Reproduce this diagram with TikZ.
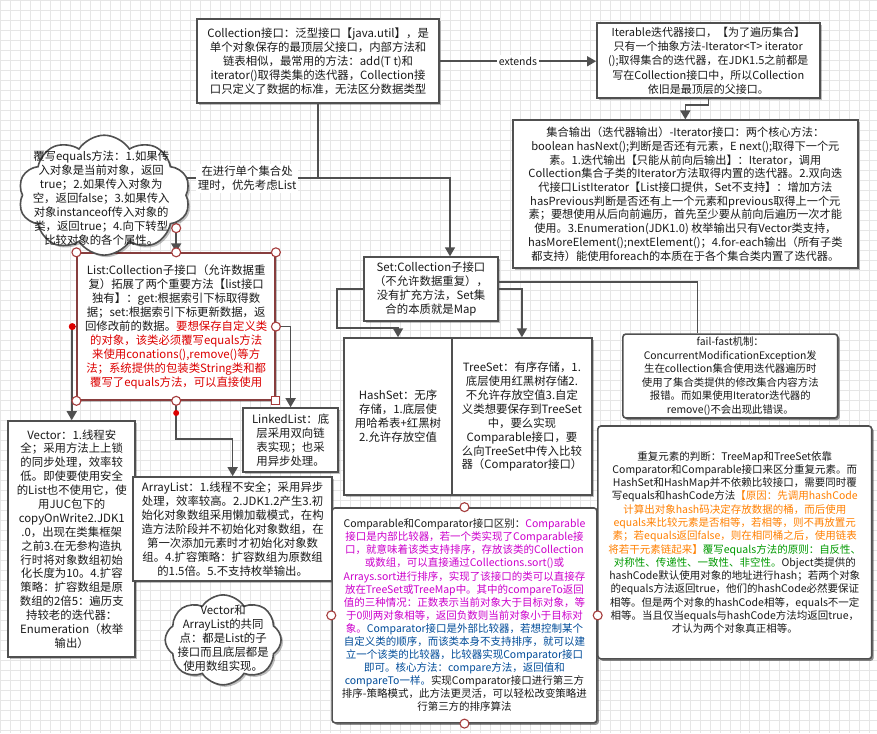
\documentclass[tikz,border=0pt]{standalone}
\usepackage{fontspec}
\setmainfont{Noto Sans CJK SC}
\usetikzlibrary{arrows.meta,shapes.symbols,shadows}

\definecolor{linegray}{RGB}{80,80,80}
\definecolor{textblack}{RGB}{26,26,26}
\definecolor{gridgray}{RGB}{230,230,230}
\definecolor{cred}{RGB}{220,0,0}
\definecolor{cmag}{RGB}{204,0,204}
\definecolor{cblue}{RGB}{0,76,153}
\definecolor{corange}{RGB}{255,128,0}
\definecolor{cgreen}{RGB}{0,153,0}
\definecolor{handlered}{RGB}{165,60,60}
\definecolor{listborder}{RGB}{135,62,62}

\newcommand\txtred[1]{\textcolor{cred}{#1}}
\newcommand\txtmag[1]{\textcolor{cmag}{#1}}
\newcommand\txtblue[1]{\textcolor{cblue}{#1}}
\newcommand\txtorange[1]{\textcolor{corange}{#1}}
\newcommand\txtgreen[1]{\textcolor{cgreen}{#1}}

\tikzset{
  box/.style={draw=linegray, line width=1.6pt, fill=white, align=center, inner sep=0pt,
    text=textblack, font=\fontsize{11.4pt}{14pt}\selectfont,
    drop shadow={shadow xshift=2pt, shadow yshift=-2pt, opacity=0.25, fill=black}},
  rbox/.style={box, rounded corners=3pt, font=\fontsize{10.5pt}{13.2pt}\selectfont},
  cloudbox/.style={cloud, cloud ignores aspect, cloud puffs=10, cloud puff arc=115, draw=linegray,
    line width=1.6pt, fill=white, inner sep=0pt,
    drop shadow={shadow xshift=2pt, shadow yshift=-2pt, opacity=0.25, fill=black}},
  cloudtext/.style={align=center, inner sep=0pt, text=textblack, font=\fontsize{11.4pt}{14pt}\selectfont},
  link/.style={draw=linegray, line width=1.6pt},
  arr/.style={link, -{Triangle[length=9pt,width=10pt]}},
  lbl/.style={fill=white, align=center, inner sep=2pt, text=textblack, font=\fontsize{11.4pt}{14pt}\selectfont},
  handle/.style={circle, draw=handlered, fill=white, line width=1.1pt, minimum size=9pt, inner sep=0pt},
  handlesq/.style={rectangle, draw=handlered, fill=white, line width=1.1pt, minimum size=8pt, inner sep=0pt},
}

\begin{document}
\begin{tikzpicture}[x=1pt,y=-1pt]
\fill[white] (0,0) rectangle (877,733);
\draw[gridgray, line width=0.6pt, step=10pt] (0,0) grid (877,733);
\useasboundingbox (0,0) rectangle (877,733);

\coordinate (fork) at (318,178);

\begin{scope}[every node/.style={box}]
  \node (coll) at (318,61) [minimum width=242pt, minimum height=84pt]
    {Collection接口：泛型接口【java.util】，是\\单个对象保存的最顶层父接口，内部方法和\\链表相似，最常用的方法：add(T t)和\\iterator()取得类集的迭代器，Collection接\\口只定义了数据的标准，无法区分数据类型};
  \node (iter) at (708.5,60.5) [minimum width=223pt, minimum height=75pt, font=\fontsize{11pt}{14.3pt}\selectfont]
    {Iterable迭代器接口，【为了遍历集合】\\只有一个抽象方法-Iterator<T> iterator\\();取得集合的迭代器，在JDK1.5之前都是\\写在Collection接口中，所以Collection\\依旧是最顶层的父接口。};
  \node (output) at (685.5,194) [minimum width=345pt, minimum height=148pt, font=\fontsize{11.2pt}{13.7pt}\selectfont]
    {集合输出（迭代器输出）-Iterator接口：两个核心方法：\\boolean hasNext();判断是否还有元素，E next();取得下一个元\\素。1.迭代输出【只能从前向后输出】：Iterator，调用\\Collection集合子类的Iterator方法取得内置的迭代器。2.双向迭\\代接口ListIterator【List接口提供，Set不支持】：增加方法\\hasPrevious判断是否还有上一个元素和previous取得上一个元\\素；要想使用从后向前遍历，首先至少要从前向后遍历一次才能\\使用。3.Enumeration(JDK1.0) 枚举输出只有Vector类支持，\\hasMoreElement();nextElement()；4.for-each输出（所有子类\\都支持）能使用foreach的本质在于各个集合类内置了迭代器。};
  \node (list) at (176,326.5) [minimum width=198pt, minimum height=147pt, draw=listborder]
    {List:Collection子接口（允许数据重\\复）拓展了两个重要方法【list接口\\独有】：get:根据索引下标取得数\\据；set:根据索引下标更新数据，返\\回修改前的数据。\txtred{要想保存自定义类}\\\txtred{的对象，该类必须覆写equals方法}\\\txtred{来使用conations(),remove()等方}\\\txtred{法；系统提供的包装类String类和都}\\\txtred{覆写了equals方法，可以直接使用}};
  \node (set) at (431,289) [minimum width=134pt, minimum height=64pt]
    {Set:Collection子接口\\（不允许数据重复），\\没有扩充方法，Set集\\合的本质就是Map};
  \node (hashset) at (398,416.5) [minimum width=108pt, minimum height=157pt]
    {HashSet：无序\\存储，1.底层使\\用哈希表+红黑树\\2.允许存放空值};
  \node (treeset) at (522,416.5) [minimum width=140pt, minimum height=157pt]
    {TreeSet：有序存储，1.\\底层使用红黑树存储2.\\不允许存放空值3.自定\\义类想要保存到TreeSet\\中，要么实现\\Comparable接口，要\\么向TreeSet中传入比较\\器（Comparator接口）};
  \node (linked) at (290.5,440) [minimum width=95pt, minimum height=64pt]
    {LinkedList：底\\层采用双向链\\表实现；也采\\用异步处理。};
  \node (vector) at (71.5,539) [minimum width=127pt, minimum height=236pt, font=\fontsize{11.4pt}{13.9pt}\selectfont]
    {Vector：1.线程安\\全；采用方法上上锁\\的同步处理，效率较\\低。即使要使用安全\\的List也不使用它，使\\用JUC包下的\\copyOnWrite2.JDK1\\.0，出现在类集框架\\之前3.在无参构造执\\行时将对象数组初始\\化长度为10。4.扩容\\策略：扩容数组是原\\数组的2倍5：遍历支\\持较老的迭代器：\\Enumeration（枚举\\输出）};
  \node (array) at (232.5,529) [minimum width=199pt, minimum height=104pt]
    {ArrayList：1.线程不安全；采用异步\\处理，效率较高。2.JDK1.2产生3.初\\始化对象数组采用懒加载模式，在构\\造方法阶段并不初始化对象数组，在\\第一次添加元素时才初始化对象数\\组。4.扩容策略：扩容数组为原数组\\的1.5倍。5.不支持枚举输出。};
  \node (failfast) at (730.5,376) [rbox, minimum width=215pt, minimum height=84pt, font=\fontsize{10.4pt}{13.5pt}\selectfont]
    {fail-fast机制：\\ConcurrentModificationException发\\生在collection集合使用迭代器遍历时\\使用了集合类提供的修改集合内容方法\\报错。而如果使用Iterator迭代器的\\remove()不会出现此错误。};
  \node (compare) at (464.5,615.5) [rbox, minimum width=265pt, minimum height=215pt, font=\fontsize{10.5pt}{13.1pt}\selectfont]
    {Comparable和Comparator接口区别：\txtmag{Comparable}\\\txtmag{接口是内部比较器，若一个类实现了Comparable接}\\\txtmag{口，就意味着该类支持排序，存放该类的Collection}\\\txtmag{或数组，可以直接通过Collections.sort()或}\\\txtmag{Arrays.sort进行排序，实现了该接口的类可以直接存}\\\txtmag{放在TreeSet或TreeMap中。其中的compareTo返回}\\\txtmag{值的三种情况：正数表示当前对象大于目标对象，等}\\\txtmag{于0则两对象相等，返回负数则当前对象小于目标对}\\\txtmag{象。}\txtblue{Comparator接口是外部比较器，若想控制某个}\\\txtblue{自定义类的顺序，而该类本身不支持排序，就可以建}\\\txtblue{立一个该类的比较器，比较器实现Comparator接口}\\\txtblue{即可。核心方法：compare方法，返回值和}\\\txtblue{compareTo一样。}实现Comparator接口进行第三方\\排序-策略模式，此方法更灵活，可以轻松改变策略进\\行第三方的排序算法};
  \node (dup) at (735,542.5) [rbox, minimum width=274pt, minimum height=233pt, font=\fontsize{10.5pt}{13.3pt}\selectfont]
    {重复元素的判断：TreeMap和TreeSet依靠\\Comparator和Comparable接口来区分重复元素。而\\HashSet和HashMap并不依赖比较接口，需要同时覆\\写equals和hashCode方法\txtorange{【原因：先调用hashCode}\\\txtorange{计算出对象hash码决定存放数据的桶，而后使用}\\\txtorange{equals来比较元素是否相等，若相等，则不再放置元}\\\txtorange{素；若equals返回false，则在相同桶之后，使用链表}\\\txtorange{将若干元素链起来】}\txtgreen{覆写equals方法的原则：自反性、}\\\txtgreen{对称性、传递性、一致性、非空性。}Object类提供的\\hashCode默认使用对象的地址进行hash；若两个对象\\的equals方法返回true，他们的hashCode必然要保证\\相等。但是两个对象的hashCode相等，equals不一定\\相等。当且仅当equals与hashCode方法均返回true，\\才认为两个对象真正相等。};
\end{scope}

\draw[arr] (coll.east) -- node[lbl, font=\fontsize{10.5pt}{13pt}\selectfont] {extends} (coll.east -| iter.west);
\draw[arr] (iter.south) -- ++(0,6) -| (output.north);
\draw[link] (coll.south) -- (fork);
\draw[arr] (fork) -| node[lbl, pos=0.25] {在进行单个集合处\\理时，优先考虑List} (list.north);
\draw[arr] (fork) -| ([xshift=19pt]set.north);
\draw[arr] (list.west) -| (vector.north);
\draw[arr] (list.east) -| (linked.north);
\draw[arr] (list.south) -- ++(0,38) -| (array.north);
\draw[arr] (set.west) -| ++(-26,39) -| (hashset.north);
\draw[arr] (set.east) -| (treeset.north);
\draw[link] ([yshift=7pt]set.east) -| ([xshift=-33pt]failfast.north);

\node[cloudbox, minimum width=172pt, minimum height=120pt] (cloudeq) at (104,195) {};
\node[cloudtext] (eqtext) at (101,198)
  {覆写equals方法：1.如果传\\入对象是当前对象，返回\\true；2.如果传入对象为\\空，返回false；3.如果传入\\对象instanceof传入对象的\\类，返回true；4.向下转型\\比较对象的各个属性。};
\node[cloudbox, cloud puffs=8, minimum width=116pt, minimum height=90pt] (cloudva) at (223,640) {};
\node[cloudtext] (vatext) at (223,638)
  {Vector和\\ArrayList的共同\\点：都是List的子\\接口而且底层都是\\使用数组实现。};

\node[handle] (hedge) at (176,228) {};
\fill[cred] (72,326.5) circle (3.5pt);
\fill[cred] (176,413) circle (3pt);
\node[handle] (lh1) at (list.north west) {};
\node[handle] (lh2) at (list.north) {};
\node[handle] (lh3) at (list.north east) {};
\node[handle] (lh4) at (list.east) {};
\node[handle] (lh5) at (list.south west) {};
\node[handle] (lh6) at (list.south) {};
\node[handlesq] (lh7) at (list.south east) {};
\node[handle] (ch1) at (compare.north) {};
\node[handle] (ch2) at (compare.south) {};
\node[handle] (ch3) at (compare.west) {};
\node[handle] (ch4) at (compare.east) {};
\end{tikzpicture}
\end{document}
